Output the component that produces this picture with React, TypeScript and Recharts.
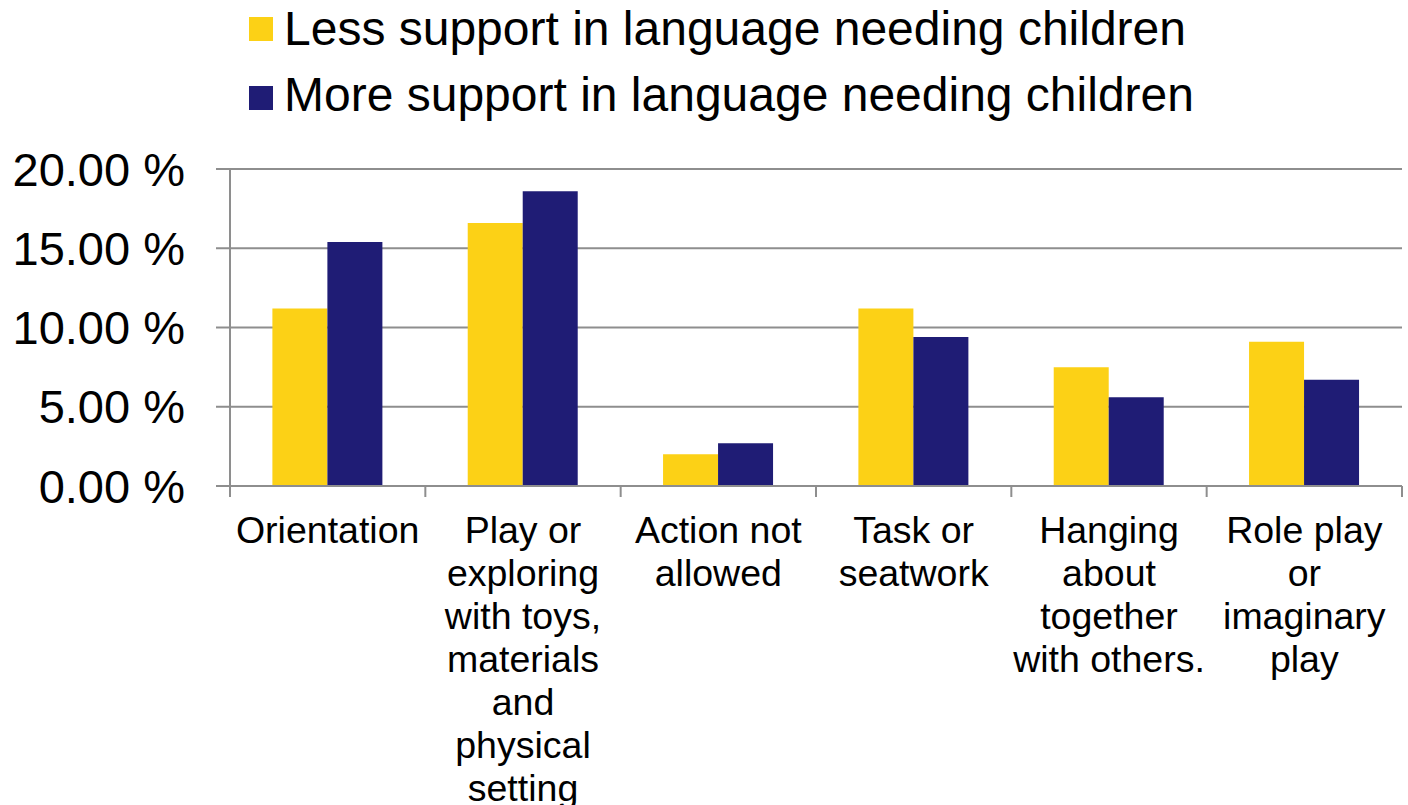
import { BarChart, Bar, XAxis, YAxis, CartesianGrid, Legend } from 'recharts'

const categories = [
  'Orientation',
  'Play or exploring with toys, materials and physical setting',
  'Action not allowed',
  'Task or seatwork',
  'Hanging about together with others.',
  'Role play or imaginary play',
]
const categoryLines = [
  ['Orientation'],
  ['Play or', 'exploring', 'with toys,', 'materials', 'and', 'physical', 'setting'],
  ['Action not', 'allowed'],
  ['Task or', 'seatwork'],
  ['Hanging', 'about', 'together', 'with others.'],
  ['Role play', 'or', 'imaginary', 'play'],
]
const lessSupport = [11.2, 16.6, 2.0, 11.2, 7.5, 9.1]
const moreSupport = [15.4, 18.6, 2.7, 9.4, 5.6, 6.7]
const yTicks = [0, 5, 10, 15, 20]

const LESS_NAME = 'Less support in language needing children'
const MORE_NAME = 'More support in language needing children'
const YELLOW = '#FCD116'
const NAVY = '#1F1C75'
const GRID = '#8E8E8E'
const FONT = '"Liberation Sans", Arial, sans-serif'

const data = categories.map((c, i) => ({
  category: c,
  less: lessSupport[i],
  more: moreSupport[i],
}))

const CategoryTick = (props: any) => {
  const { x, y, payload, index } = props
  const half = payload?.offset ?? 97.67
  const lines = categoryLines[index] || [payload.value]
  return (
    <g>
      <line x1={x - half} x2={x - half} y1={y - 11} y2={y} stroke={GRID} strokeWidth={2} />
      {index === categories.length - 1 && (
        <line x1={x + half} x2={x + half} y1={y - 11} y2={y} stroke={GRID} strokeWidth={2} />
      )}
      <text textAnchor="middle" fontFamily={FONT} fontSize={37.5} fill="#000">
        {lines.map((l: string, i: number) => (
          <tspan key={i} x={x} y={y + 46 + i * 43}>{l}</tspan>
        ))}
      </text>
    </g>
  )
}

const LegendContent = () => {
  const rows = [
    { name: LESS_NAME, color: YELLOW },
    { name: MORE_NAME, color: NAVY },
  ]
  return (
    <div style={{ position: 'relative', width: 1200, height: 130 }}>
      {rows.map((r, i) => (
        <div key={r.name}>
          <div style={{ position: 'absolute', left: 249, top: 17 + i * 69, width: 24, height: 24, background: r.color }} />
          <div style={{ position: 'absolute', left: 284, top: 5 + i * 66, fontFamily: FONT, fontSize: 48, lineHeight: '48px', color: '#000', whiteSpace: 'nowrap' }}>
            {r.name}
          </div>
        </div>
      ))}
    </div>
  )
}

export default function App() {
  return (
    <div style={{ position: 'absolute', left: 0, top: 0, background: '#fff' }}>
      <BarChart
        width={1408}
        height={805}
        data={data}
        margin={{ top: 169, right: 6, bottom: 0, left: 0 }}
        barCategoryGap="21.7%"
        barGap={0}
      >
        <CartesianGrid vertical={false} stroke={GRID} strokeWidth={2} />
        <XAxis
          dataKey="category"
          interval={0}
          height={319}
          tickSize={11}
          tickMargin={0}
          tickLine={false}
          axisLine={{ stroke: GRID, strokeWidth: 2 }}
          tick={<CategoryTick />}
        />
        <YAxis
          width={230}
          domain={[0, 20]}
          ticks={yTicks}
          tickSize={14}
          tickMargin={31}
          tickLine={{ stroke: GRID, strokeWidth: 2 }}
          axisLine={{ stroke: GRID, strokeWidth: 2 }}
          tickFormatter={(v: number) => `${v.toFixed(2)} %`}
          tick={{ fill: '#000', fontSize: 47, fontFamily: FONT }}
        />
        <Legend
          layout="vertical"
          align="center"
          verticalAlign="middle"
          wrapperStyle={{ top: 0, left: 0, width: 1200 }}
          content={<LegendContent />}
        />
        <Bar dataKey="less" name={LESS_NAME} fill={YELLOW} isAnimationActive={false} />
        <Bar dataKey="more" name={MORE_NAME} fill={NAVY} isAnimationActive={false} />
      </BarChart>
    </div>
  )
}
